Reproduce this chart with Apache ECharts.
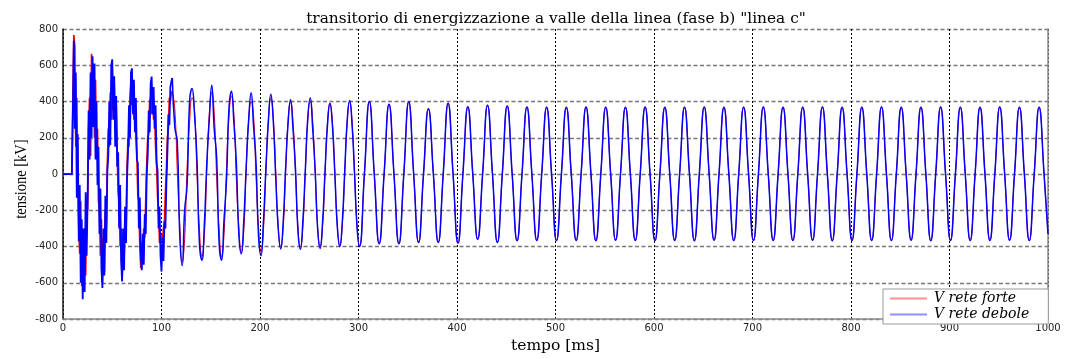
<!DOCTYPE html>
<html>
<head>
<meta charset="utf-8">
<title>transitorio di energizzazione</title>
<script src="https://cdn.jsdelivr.net/npm/echarts@6.0.0/dist/echarts.min.js"></script>
<style>
  html, body { margin: 0; padding: 0; background: #ffffff; }
  #chart { width: 1069px; height: 359px; }
</style>
</head>
<body>
<div id="chart"></div>
<script>
// Sampling of the two waveforms (time in ms, voltage in kV).
// Fast part: 1 ms samples during the energization transient.
const fastStart = 0;
const fastStep = 1;
// Middle part: 2.5 ms samples while the oscillations die out.
const midStart = 111;
const midStep = 2.5;
// Steady state: 5 ms samples (peaks, zero crossings, troughs).
const slowStart = 301;
const slowStep = 5;
const endTime = 1000;
const endValue = -330;

const seriesNames = ['V rete forte', 'V rete debole'];
const xTicks = [0, 100, 200, 300, 400, 500, 600, 700, 800, 900, 1000];
const yTicks = [-800, -600, -400, -200, 0, 200, 400, 600, 800];

const forteFast = [
  0, 0, 0, 0, 0, 0, 0, 0, 0, 0,
  420, 767, 700, 150, 420, 0, -300, -440, -150, -618,
  -380, -620, -300, -560, -150, -200, 250, 420, 100, 663,
  380, 560, 200, 520, 100, 250, -150, -200, -450, -250,
  -601, -350, -540, -200, -300, 50, 250, 150, 450, 300,
  582, 350, 500, 250, 380, 120, -100, -150, -400, -300,
  -583, -380, -480, -250, -300, 30, 200, 150, 420, 502,
  380, 460, 300, 380, 200, 100, -120, -150, -400, -520,
  -380, -440, -300, -350, -150, 50, 200, 220, 400, 420,
  330, 420, 300, 330, 150, 60, -120, -200, -380, -370,
  -330, -380, -300, -260, -100, 20, 200, 250, 420, 400,
  453
];

const deboleFast = [
  0, 0, 0, 0, 0, 0, 0, 0, 0, 0,
  340, 735, 250, 560, -130, 220, -370, -60, -600, -250,
  -690, -300, -650, -100, -450, -130, 350, 80, 560, 200,
  650, 260, 610, 80, 400, -60, 150, -330, -80, -520,
  -628, -300, -560, -120, -380, 20, 100, 400, 160, 600,
  633, 300, 540, 150, 430, 40, 120, -300, -60, -480,
  -592, -300, -530, -180, -380, -20, 120, 380, 200, 560,
  583, 330, 520, 230, 420, 80, 60, -300, -130, -460,
  -530, -330, -500, -220, -330, 0, 100, 350, 230, 500,
  538, 330, 480, 250, 380, 60, 20, -300, -180, -450,
  -538, -350, -480, -260, -300, -40, 120, 330, 270, 480,
  510
];

const forteMid = [
  453, 360, 20, -280, -484, -360, 40, 280,
  421, 360, 0, -300, -455, -340, 20, 330,
  450, 340, -20, -300, -455, -330, 30, 320,
  430, 330, -30, -290, -430, -320, 30, 300,
  400, 320, -20, -290, -430, -310, 20, 300,
  420, 310, 10, -290, -405, -300, 10, 295,
  400, 290, 10, -290, -405, -295, 10, 295,
  405, 290, 10, -290, -400, -290, 10, 285,
  390, 285, 5, -285, -395, -285, 5, 290,
  400, 285, 0, -285
];

const deboleMid = [
  530, 260, 180, -330, -505, -200, -60, 400,
  472, 330, 80, -380, -475, -280, 60, 300,
  490, 250, 90, -380, -475, -250, -30, 360,
  457, 280, 60, -330, -440, -260, 40, 300,
  448, 260, 60, -340, -450, -260, 30, 290,
  440, 290, -20, -300, -413, -270, 30, 280,
  410, 250, 30, -310, -415, -260, 20, 310,
  420, 250, 20, -300, -410, -270, 10, 270,
  390, 270, 0, -290, -400, -270, 10, 290,
  405, 270, 0, -290
];

// Steady state, shared by both networks once the transient has vanished.
const steadySlow = [
  -400, 0, 400, 0, -385, 0, 385, 0,
  -385, 0, 399, 0, -377, 0, 360, 0,
  -377, 0, 391, 0, -382, 0, 371, 0,
  -360, 0, 380, 0, -377, 0, 376, 0,
  -368, 0, 370, 0, -366, 0, 369, 0,
  -367, 0, 368, 0, -366, 0, 370, 0,
  -368, 0, 369, 0, -365, 0, 368, 0,
  -366, 0, 370, 0, -367, 0, 368, 0,
  -366, 0, 369, 0, -368, 0, 370, 0,
  -365, 0, 368, 0, -367, 0, 369, 0,
  -366, 0, 370, 0, -366, 0, 368, 0,
  -367, 0, 369, 0, -365, 0, 370, 0,
  -368, 0, 368, 0, -366, 0, 369, 0,
  -366, 0, 370, 0, -367, 0, 368, 0,
  -365, 0, 369, 0, -368, 0, 370, 0,
  -366, 0, 368, 0, -367, 0, 369, 0,
  -366, 0, 370, 0, -365, 0, 368, 0,
  -367, 0, 369, 0
];

// Transient part: straight segments between 1 ms samples, ending on the first mid sample.
function buildFast(fast, mid) {
  const pts = fast.map((v, i) => [fastStart + i * fastStep, v]);
  pts.push([midStart, mid[0]]);
  return pts;
}

// Decaying and steady part: smoothed curve through the coarser samples.
function buildRest(mid, slow) {
  const pts = mid.map((v, i) => [midStart + i * midStep, v]);
  slow.forEach((v, i) => pts.push([slowStart + i * slowStep, v]));
  pts.push([endTime, endValue]);
  return pts;
}

const RED = '#ff0000';
const BLUE = '#0000ff';

function lineSeries(name, data, color, width, smooth, z) {
  return {
    name: name,
    type: 'line',
    data: data,
    showSymbol: false,
    smooth: smooth,
    lineStyle: { color: color, width: width },
    itemStyle: { color: color },
    emphasis: { disabled: true },
    z: z
  };
}

const chart = echarts.init(document.getElementById('chart'), null, { renderer: 'canvas' });

const tickFont = { fontFamily: 'DejaVu Sans', fontSize: 10, color: '#222222' };

chart.setOption({
  animation: false,
  backgroundColor: '#ffffff',
  title: {
    text: 'transitorio di energizzazione a valle della linea (fase b) "linea c"',
    left: 551,
    textAlign: 'center',
    top: 6,
    textStyle: { fontFamily: 'DejaVu Serif', fontSize: 15.4, fontWeight: 'normal', color: '#000' }
  },
  legend: {
    orient: 'vertical',
    left: 883,
    top: 289,
    padding: [2, 19, 2, 7],
    itemGap: 1,
    itemWidth: 37,
    itemHeight: 2,
    icon: 'rect',
    backgroundColor: '#ffffff',
    borderColor: '#9a9a9a',
    borderWidth: 1,
    borderRadius: 0,
    textStyle: {
      fontFamily: 'DejaVu Serif',
      fontStyle: 'italic',
      fontSize: 14,
      lineHeight: 15,
      color: '#000',
      padding: [0, 0, 0, 2]
    },
    data: [
      { name: seriesNames[0], itemStyle: { color: '#ff9090' } },
      { name: seriesNames[1], itemStyle: { color: '#9090ff' } }
    ]
  },
  graphic: [
    {
      type: 'text',
      x: 21,
      y: 179,
      rotation: Math.PI / 2,
      scaleY: 1.22,
      style: {
        text: 'tensione [kV]',
        font: '14.5px "Liberation Serif"',
        fill: '#000',
        textAlign: 'center',
        textVerticalAlign: 'middle'
      }
    }
  ],
  grid: { left: 63, top: 29, width: 985, height: 297, containLabel: false },
  xAxis: {
    type: 'value',
    min: xTicks[0],
    max: xTicks[xTicks.length - 1],
    interval: 100,
    name: 'tempo [ms]',
    nameLocation: 'middle',
    nameGap: 17,
    nameTextStyle: { fontFamily: 'DejaVu Serif', fontSize: 15.5, color: '#000' },
    axisLine: { show: true, onZero: false, lineStyle: { color: '#8a8a8a', width: 1.5 } },
    axisTick: { show: false },
    axisLabel: Object.assign({ margin: 4, formatter: (v) => String(v) }, tickFont),
    splitLine: { show: true, lineStyle: { color: '#000', width: 1, type: [2, 2] } }
  },
  yAxis: [
    {
      type: 'value',
      min: yTicks[0],
      max: yTicks[yTicks.length - 1],
      interval: 200,
      axisLine: { show: true, onZero: false, lineStyle: { color: '#1a1a1a', width: 1.5 } },
      axisTick: { show: false },
      axisLabel: Object.assign({ margin: 5 }, tickFont),
      splitLine: { show: true, lineStyle: { color: '#777777', width: 1.3, type: [4, 2.5] } }
    },
    {
      type: 'value',
      position: 'right',
      min: yTicks[0],
      max: yTicks[yTicks.length - 1],
      axisLine: { show: true, onZero: false, lineStyle: { color: '#8a8a8a', width: 1.5 } },
      axisTick: { show: false },
      axisLabel: { show: false },
      splitLine: { show: false }
    }
  ],
  series: [
    lineSeries(seriesNames[0], buildFast(forteFast, forteMid), RED, 1.7, false, 2),
    lineSeries(seriesNames[0], buildRest(forteMid, steadySlow), RED, 1.0, 0.5, 2),
    lineSeries(seriesNames[1], buildFast(deboleFast, deboleMid), BLUE, 1.8, false, 3),
    lineSeries(seriesNames[1], buildRest(deboleMid, steadySlow), BLUE, 1.5, 0.5, 3)
  ]
});
</script>
</body>
</html>
